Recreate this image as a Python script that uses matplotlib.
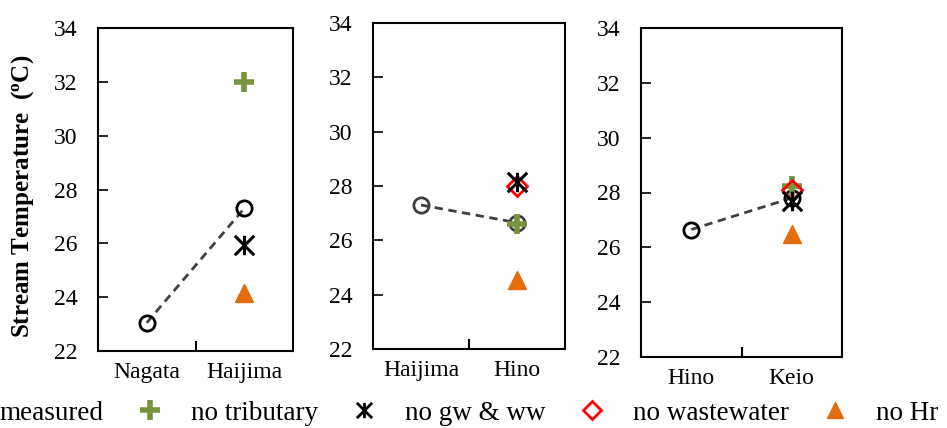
import matplotlib
matplotlib.use("Agg")
import matplotlib.pyplot as plt
from matplotlib.path import Path
from matplotlib.lines import Line2D

plt.rcParams['font.family'] = ['Liberation Serif', 'DejaVu Serif']
plt.rcParams['mathtext.fontset'] = 'custom'
plt.rcParams['mathtext.rm'] = 'Liberation Serif'
plt.rcParams['mathtext.bf'] = 'Liberation Serif:bold'

# ---- data ----
sites_1 = ["Nagata", "Haijima"]
sites_2 = ["Haijima", "Hino"]
sites_3 = ["Hino", "Keio"]

measured_1 = [23.05, 27.3]
measured_2 = [27.3, 26.65]
measured_3 = [26.65, 27.8]

# scenario values at the downstream site of each panel
no_tributary = [32.0, 26.6, 28.25]
no_gw_ww = [25.95, 28.15, 27.7]
no_wastewater = [None, 28.0, 28.1]
no_hr = [24.15, 24.55, 26.5]

yticks = [22, 24, 26, 28, 30, 32, 34]
legend_labels = ["measured", "no tributary", "no gw & ww", "no wastewater", "no Hr"]

# ---- styles ----
GREEN = "#77933C"
ORANGE = "#E46C0A"
RED = "#FF0000"
DASH = "#404040"

star_path = Path([(-1, -1), (1, 1), (-1, 1), (1, -1), (0, -1), (0, 1)],
                 [Path.MOVETO, Path.LINETO, Path.MOVETO, Path.LINETO, Path.MOVETO, Path.LINETO])

W, H = 947, 428
fig = plt.figure(figsize=(W / 100, H / 100), dpi=100)

boxes = [(98, 293, 28, 351), (373, 565, 23, 349), (641, 842, 28, 357)]
sites = [sites_1, sites_2, sites_3]
measured = [measured_1, measured_2, measured_3]
circ_colors = ["black", DASH, "black"]

for i, (l, r, t, b) in enumerate(boxes):
    ax = fig.add_axes([l / W, 1 - b / H, (r - l) / W, (b - t) / H])
    x = [0, 1]
    ax.plot(x, measured[i], ls=(0, (3, 2)), color=DASH, lw=2, zorder=2)
    ax.plot(x, measured[i], ls='none', marker='o', ms=11, mfc='none',
            mec=circ_colors[i], mew=2, zorder=3)
    ax.plot([1], [no_tributary[i]], ls='none', marker='+', ms=14, mew=4,
            color=GREEN, zorder=4)
    if no_wastewater[i] is not None:
        ax.plot([1], [no_wastewater[i]], ls='none', marker='D', ms=10, mfc='none',
                mec=RED, mew=2, zorder=5)
    ax.plot([1], [no_gw_ww[i]], ls='none', marker=star_path, ms=14, color='black',
            mew=2.2, zorder=6)
    ax.plot([1], [no_hr[i]], ls='none', marker='^', ms=13, color=ORANGE, zorder=4)

    ax.set_xlim(-0.5, 1.5)
    ax.set_ylim(22, 34)
    ax.set_yticks(yticks)
    ax.set_xticks(x, sites[i])
    ax.set_xticks([0.5], minor=True)
    ax.tick_params(axis='x', which='major', length=0, pad=8, labelsize=17)
    ax.tick_params(axis='x', which='minor', direction='in', length=7, width=1.5)
    ax.tick_params(axis='y', direction='in', length=7, width=1.2, pad=15, labelsize=17)
    for s in ax.spines.values():
        s.set_linewidth(1.5)

fig.text(23 / W, 1 - 196 / H, r"Stream Temperature  ($\mathbf{^{o}}$C)", rotation=90,
         ha='center', va='center', fontsize=18, fontweight='bold')

handles = [
    Line2D([], [], ls='none', marker='o', ms=11, mfc='none', mec='black', mew=2),
    Line2D([], [], ls='none', marker='+', ms=14, mew=4, color=GREEN),
    Line2D([], [], ls='none', marker=star_path, ms=11, color='black', mew=2),
    Line2D([], [], ls='none', marker='D', ms=9, mfc='none', mec=RED, mew=2),
    Line2D([], [], ls='none', marker='^', ms=12, color=ORANGE),
]
fig.legend(handles, legend_labels, loc='center left', bbox_to_anchor=(-55 / W, 1 - 413 / H),
           ncol=5, frameon=False, fontsize=19.5, handlelength=1.0, handletextpad=1.02,
           columnspacing=1.2, borderpad=0, borderaxespad=0)

fig.savefig("out.png", dpi=100)
